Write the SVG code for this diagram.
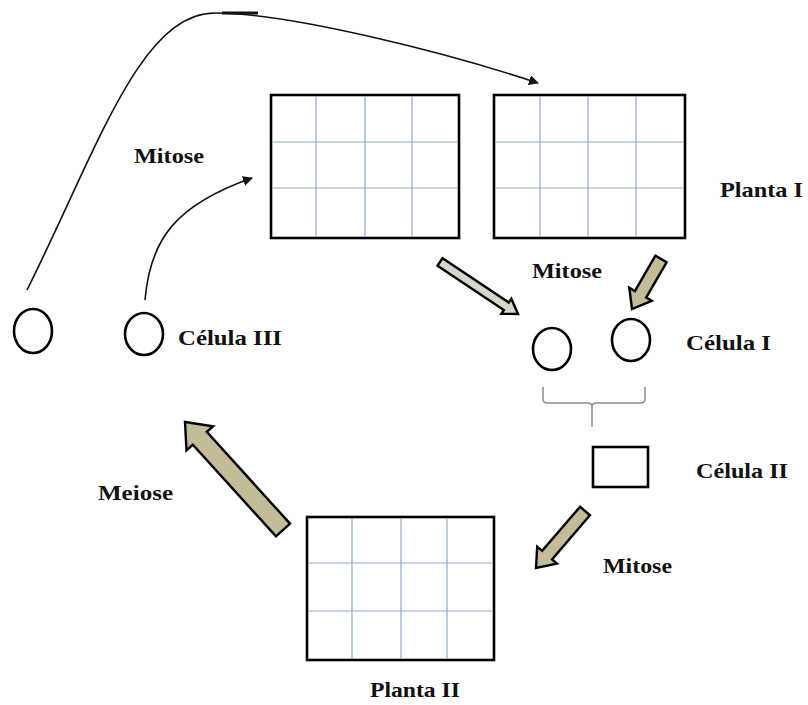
<svg xmlns="http://www.w3.org/2000/svg" width="808" height="705" viewBox="0 0 808 705">
<defs>
<style>
.frame{fill:#fff;stroke:#000;stroke-width:2.6}
.grid{stroke:#8FAACB;stroke-width:1.2;fill:none}
.cell{fill:#fff;stroke:#000;stroke-width:2.6}
.lbl{font-family:"Liberation Serif","Times New Roman",serif;font-weight:bold;font-size:21px;fill:#111}
.curve{fill:none;stroke:#111;stroke-width:1.6}
.blk{fill:#C4BC98;stroke:#000;stroke-width:2.4;stroke-linejoin:miter}
.blk2{fill:#D8D5CA;stroke:#000;stroke-width:2.4;stroke-linejoin:miter}
.brace{fill:none;stroke:#8a8a8a;stroke-width:1.5}
</style>
<marker id="ah" viewBox="0 0 10 10" refX="9" refY="5" markerWidth="10" markerHeight="10" markerUnits="userSpaceOnUse" orient="auto">
<path d="M0,0 L10,5 L0,10 z" fill="#111"/>
</marker>
</defs>
<rect width="808" height="705" fill="#fff"/>

<g id="planta-a">
<rect class="frame" x="271" y="95" width="188" height="143"/>
<path class="grid" d="M316,96V237M365,96V237M412,96V237M272,142H458M272,188H458"/>
</g>

<g id="planta-i">
<rect class="frame" x="494" y="95" width="191" height="143"/>
<path class="grid" d="M540,96V237M588,96V237M636,96V237M495,142H684M495,188H684"/>
<text class="lbl" x="720" y="197" textLength="83" lengthAdjust="spacingAndGlyphs">Planta I</text>
</g>

<g id="planta-ii">
<rect class="frame" x="307" y="517" width="187" height="143"/>
<path class="grid" d="M352,518V659M401,518V659M447,518V659M308,563H493M308,611H493"/>
<text class="lbl" x="370" y="697" textLength="90" lengthAdjust="spacingAndGlyphs">Planta II</text>
</g>

<g id="celula-iii-a">
<ellipse class="cell" cx="33" cy="331" rx="19" ry="22"/>
</g>

<g id="celula-iii">
<ellipse class="cell" cx="144" cy="334" rx="19" ry="21"/>
<text class="lbl" x="178" y="345" textLength="104" lengthAdjust="spacingAndGlyphs">Célula III</text>
</g>

<g id="celula-i">
<ellipse class="cell" cx="552" cy="349" rx="19" ry="21"/>
<ellipse class="cell" cx="631" cy="340" rx="19" ry="21"/>
<path class="brace" d="M543,387V399Q543,403 547,403H588Q592,403 592,407V427M592,407Q592,403 596,403H641Q645,403 645,399V387"/>
<text class="lbl" x="686" y="350" textLength="85" lengthAdjust="spacingAndGlyphs">Célula I</text>
</g>

<g id="celula-ii">
<rect class="cell" x="593" y="447" width="55" height="40"/>
<text class="lbl" x="696" y="478" textLength="92" lengthAdjust="spacingAndGlyphs">Célula II</text>
</g>

<g id="connectors">
<path class="curve" d="M27,290 C97,150 140,13 215,13 C290,13 448,53 538,83" marker-end="url(#ah)"/>
<line x1="222" y1="13" x2="258" y2="13" stroke="#111" stroke-width="3"/>
<path class="curve" d="M145,300 C150,240 175,205 252,178" marker-end="url(#ah)"/>
<polygon class="blk2" points="437.5,265.7 503.85,309.97 501.35,313.72 518,314 511.35,298.74 508.85,302.49 442.5,258.26"/>
<polygon class="blk" points="666.6,262.3 646.15,297.56 651.78,300.83 632,309 629.28,287.77 634.91,291.04 655.4,255.7"/>
<polygon class="blk" points="589.93,515.24 552.01,559.35 556.93,563.59 536,568 537.23,546.63 542.15,550.87 580.07,506.76"/>
<polygon class="blk" points="290,523.6 206.8,431.9 213.1,426.2 185,422 186.5,450.4 192.8,444.7 276,536.4"/>
<text class="lbl" x="134" y="163" textLength="70" lengthAdjust="spacingAndGlyphs">Mitose</text>
<text class="lbl" x="532" y="278" textLength="70" lengthAdjust="spacingAndGlyphs">Mitose</text>
<text class="lbl" x="603" y="573" textLength="69" lengthAdjust="spacingAndGlyphs">Mitose</text>
<text class="lbl" x="98" y="500" textLength="75" lengthAdjust="spacingAndGlyphs">Meiose</text>
</g>
</svg>
